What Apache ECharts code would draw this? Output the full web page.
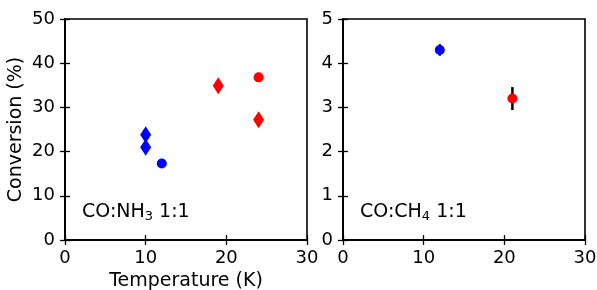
<!DOCTYPE html>
<html>
<head>
<meta charset="utf-8">
<script src="https://cdn.jsdelivr.net/npm/echarts@6/dist/echarts.min.js"></script>
<style>
html, body { margin: 0; padding: 0; background: #fff; }
#main { width: 597px; height: 290px; }
</style>
</head>
<body>
<div id="main"></div>
<script>
var dom = document.getElementById("main");
var myChart = echarts.init(dom);
var option = null;
var font = 'DejaVu Sans';

// CO:NH3 panel  [temperature, conversion]
var nh3BlueDiamonds = [[10, 23.8], [10, 21.0]];
var nh3BlueCircles = [[12, 17.3]];
var nh3RedDiamonds = [[19, 34.9], [24, 27.2]];
var nh3RedCircles = [[24, 36.8]];

// CO:CH4 panel  [temperature, conversion, error]
var ch4Blue = [[12, 4.3, 0.13]];
var ch4Red = [[21, 3.2, 0.26]];

function xAxis(idx, name, inner) {
    return {
        type: 'value', gridIndex: idx, position: 'bottom', min: 0, max: 30, interval: 10,
        name: inner ? '' : name, nameLocation: 'middle', nameGap: 30,
        nameTextStyle: { fontFamily: font, fontSize: 19, color: '#000' },
        axisLine: { show: true, onZero: false, lineStyle: { color: '#000', width: 1.6 } },
        axisTick: { show: true, inside: inner, length: 5, lineStyle: { color: '#000', width: 1.3 } },
        axisLabel: { show: !inner, fontFamily: font, fontSize: 18, color: '#000', margin: 9 },
        splitLine: { show: false }
    };
}
function yAxis(idx, max, interval, name, inner) {
    return {
        type: 'value', gridIndex: idx, position: 'left', min: 0, max: max, interval: interval,
        name: inner ? '' : name, nameLocation: 'middle', nameGap: 39,
        nameTextStyle: { fontFamily: font, fontSize: 19, color: '#000' },
        axisLine: { show: true, onZero: false, lineStyle: { color: '#000', width: 1.6 } },
        axisTick: { show: true, inside: inner, length: 5, lineStyle: { color: '#000', width: 1.3 } },
        axisLabel: { show: !inner, fontFamily: font, fontSize: 18, color: '#000', margin: 10 },
        splitLine: { show: false }
    };
}

function errorBars(data, xi, yi) {
    return {
        type: 'custom', xAxisIndex: xi, yAxisIndex: yi, z: 1,
        data: data,
        renderItem: function (params, api) {
            var top = api.coord([api.value(0), api.value(1) + api.value(2)]);
            var bot = api.coord([api.value(0), api.value(1) - api.value(2)]);
            return {
                type: 'line',
                shape: { x1: top[0], y1: top[1], x2: bot[0], y2: bot[1] },
                style: { stroke: '#000', lineWidth: 2.5 }
            };
        }
    };
}

function dots(data, xi, yi, sym, size, color) {
    return {
        type: 'scatter', xAxisIndex: xi, yAxisIndex: yi, z: 3,
        symbol: sym, symbolSize: size, data: data,
        itemStyle: { color: color, opacity: 1 }
    };
}

var rich = {
    n: { fontFamily: font, fontSize: 19, fill: '#000' },
    s: { fontFamily: font, fontSize: 13, fill: '#000', padding: [9, 0, 0, 0] }
};

option = {
    animation: false,
    grid: [
        { left: 65, top: 19, width: 242, height: 221, show: true, borderColor: '#000', borderWidth: 1.6, outerBoundsMode: 'none', containLabel: false },
        { left: 343, top: 19, width: 242, height: 221, show: true, borderColor: '#000', borderWidth: 1.6, outerBoundsMode: 'none', containLabel: false }
    ],
    xAxis: [
        xAxis(0, 'Temperature (K)', false), xAxis(1, '', false),
        xAxis(0, '', true), xAxis(1, '', true)
    ],
    yAxis: [
        yAxis(0, 50, 10, 'Conversion (%)', false), yAxis(1, 5, 1, '', false),
        yAxis(0, 50, 10, '', true), yAxis(1, 5, 1, '', true)
    ],
    series: [
        dots(nh3BlueDiamonds, 0, 0, 'diamond', [11, 17], '#0000ff'),
        dots(nh3BlueCircles, 0, 0, 'circle', 10, '#0000ff'),
        dots(nh3RedDiamonds, 0, 0, 'diamond', [11, 17], '#ff0000'),
        dots(nh3RedCircles, 0, 0, 'circle', 10, '#ff0000'),
        errorBars(ch4Blue, 1, 1),
        errorBars(ch4Red, 1, 1),
        dots(ch4Blue, 1, 1, 'circle', 10, '#0000ff'),
        dots(ch4Red, 1, 1, 'circle', 10, '#ff0000')
    ],
    graphic: [
        { type: 'text', left: 82, top: 203, style: { text: '{n|CO:NH}{s|3}{n| 1:1}', rich: rich } },
        { type: 'text', left: 360, top: 203, style: { text: '{n|CO:CH}{s|4}{n| 1:1}', rich: rich } }
    ]
};
if (option && typeof option === "object") {
    myChart.setOption(option, true);
}
</script>
</body>
</html>
